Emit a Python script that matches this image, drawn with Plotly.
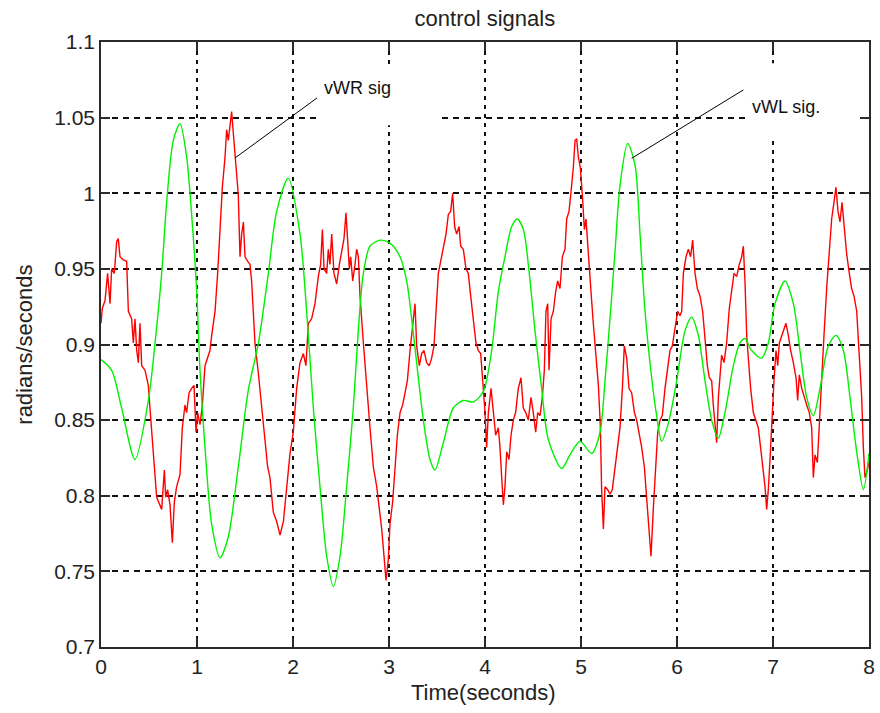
import plotly.graph_objects as go

# ---- data ----
wl_t = [0.0, 0.11, 0.215, 0.354, 0.493, 0.563, 0.632, 0.684, 0.753, 0.823, 0.892, 0.944, 0.997, 1.031,
        1.083, 1.153, 1.24, 1.326, 1.43, 1.535, 1.64, 1.743, 1.83, 1.951, 2.073, 2.142, 2.212, 2.281,
        2.351, 2.42, 2.49, 2.559, 2.628, 2.68, 2.733, 2.802, 2.906, 3.01, 3.115, 3.184, 3.236, 3.288,
        3.358, 3.427, 3.479, 3.566, 3.67, 3.774, 3.878, 3.983, 4.069, 4.139, 4.208, 4.278, 4.337, 4.4,
        4.451, 4.521, 4.59, 4.66, 4.799, 4.885, 4.99, 5.111, 5.198, 5.25, 5.302, 5.354, 5.406, 5.486,
        5.562, 5.615, 5.667, 5.736, 5.788, 5.84, 5.91, 5.997, 6.083, 6.153, 6.222, 6.292, 6.361, 6.43,
        6.5, 6.587, 6.656, 6.708, 6.778, 6.882, 6.951, 7.021, 7.125, 7.212, 7.281, 7.351, 7.42, 7.49,
        7.576, 7.656, 7.733, 7.802, 7.872, 7.941, 8.0]
wl_v = [0.890, 0.883, 0.858, 0.824, 0.863, 0.901, 0.947, 0.994, 1.035, 1.046, 1.024, 0.986, 0.935, 0.883,
        0.832, 0.781, 0.759, 0.773, 0.819, 0.870, 0.901, 0.947, 0.988, 1.010, 0.973, 0.922, 0.858, 0.806,
        0.760, 0.740, 0.760, 0.806, 0.858, 0.909, 0.947, 0.965, 0.969, 0.967, 0.958, 0.942, 0.917, 0.888,
        0.850, 0.824, 0.817, 0.835, 0.858, 0.863, 0.862, 0.869, 0.896, 0.935, 0.958, 0.978, 0.983, 0.976,
        0.953, 0.909, 0.871, 0.837, 0.818, 0.827, 0.836, 0.828, 0.842, 0.876, 0.917, 0.961, 1.005, 1.033,
        1.019, 0.973, 0.922, 0.878, 0.853, 0.836, 0.848, 0.876, 0.909, 0.918, 0.906, 0.876, 0.850, 0.838,
        0.855, 0.886, 0.901, 0.904, 0.896, 0.891, 0.901, 0.927, 0.942, 0.927, 0.896, 0.865, 0.853, 0.871,
        0.899, 0.906, 0.896, 0.865, 0.829, 0.804, 0.828]

wr_t = [0.0, 0.014, 0.042, 0.069, 0.094, 0.111, 0.139, 0.163, 0.18, 0.198, 0.233, 0.267, 0.285, 0.319,
        0.337, 0.354, 0.372, 0.389, 0.406, 0.424, 0.458, 0.493, 0.51, 0.528, 0.556, 0.58, 0.615, 0.632,
        0.66, 0.674, 0.694, 0.719, 0.743, 0.764, 0.788, 0.823, 0.847, 0.875, 0.892, 0.917, 0.944, 0.969,
        0.99, 1.007, 1.031, 1.056, 1.083, 1.111, 1.135, 1.153, 1.188, 1.215, 1.24, 1.264, 1.292, 1.309,
        1.326, 1.344, 1.361, 1.378, 1.396, 1.413, 1.43, 1.448, 1.465, 1.483, 1.5, 1.528, 1.552, 1.569,
        1.604, 1.639, 1.674, 1.708, 1.736, 1.76, 1.795, 1.83, 1.865, 1.9, 1.934, 1.969, 2.003, 2.038,
        2.073, 2.108, 2.135, 2.16, 2.194, 2.229, 2.264, 2.288, 2.306, 2.323, 2.351, 2.368, 2.385, 2.403,
        2.427, 2.455, 2.483, 2.507, 2.531, 2.552, 2.566, 2.587, 2.601, 2.622, 2.646, 2.663, 2.681, 2.698,
        2.733, 2.767, 2.802, 2.837, 2.872, 2.9, 2.924, 2.948, 2.969, 2.993, 3.01, 3.038, 3.063, 3.087,
        3.115, 3.142, 3.167, 3.191, 3.219, 3.247, 3.271, 3.288, 3.316, 3.34, 3.365, 3.392, 3.42, 3.444,
        3.469, 3.49, 3.514, 3.538, 3.566, 3.594, 3.618, 3.642, 3.663, 3.684, 3.705, 3.73, 3.747, 3.774,
        3.802, 3.826, 3.851, 3.878, 3.906, 3.931, 3.955, 3.976, 4.0, 4.017, 4.035, 4.063, 4.087, 4.111,
        4.139, 4.156, 4.174, 4.191, 4.208, 4.226, 4.25, 4.271, 4.295, 4.319, 4.347, 4.375, 4.399, 4.424,
        4.451, 4.479, 4.503, 4.528, 4.549, 4.573, 4.597, 4.618, 4.635, 4.653, 4.667, 4.688, 4.712, 4.736,
        4.757, 4.781, 4.806, 4.833, 4.851, 4.875, 4.896, 4.92, 4.938, 4.955, 4.972, 4.993, 5.014, 5.035,
        5.052, 5.076, 5.104, 5.128, 5.153, 5.181, 5.201, 5.215, 5.233, 5.25, 5.278, 5.302, 5.326, 5.354,
        5.382, 5.406, 5.431, 5.451, 5.476, 5.5, 5.528, 5.556, 5.58, 5.604, 5.632, 5.66, 5.684, 5.708,
        5.729, 5.753, 5.778, 5.799, 5.823, 5.847, 5.875, 5.903, 5.927, 5.951, 5.979, 6.007, 6.031, 6.049,
        6.066, 6.094, 6.118, 6.142, 6.163, 6.188, 6.212, 6.24, 6.267, 6.292, 6.316, 6.337, 6.361, 6.378,
        6.396, 6.413, 6.431, 6.448, 6.465, 6.49, 6.517, 6.545, 6.57, 6.594, 6.622, 6.649, 6.674, 6.691,
        6.708, 6.726, 6.743, 6.767, 6.795, 6.823, 6.847, 6.865, 6.892, 6.917, 6.934, 6.951, 6.969, 6.99,
        7.01, 7.031, 7.049, 7.066, 7.09, 7.115, 7.135, 7.16, 7.184, 7.212, 7.24, 7.257, 7.274, 7.299,
        7.323, 7.351, 7.378, 7.403, 7.42, 7.438, 7.462, 7.483, 7.507, 7.531, 7.559, 7.587, 7.611, 7.635,
        7.656, 7.677, 7.698, 7.719, 7.74, 7.767, 7.795, 7.819, 7.844, 7.872, 7.9, 7.924, 7.941, 7.958,
        7.983, 8.0]
wr_v = [0.914, 0.924, 0.929, 0.947, 0.927, 0.950, 0.947, 0.968, 0.970, 0.958, 0.956, 0.955, 0.922, 0.917,
        0.901, 0.917, 0.896, 0.888, 0.914, 0.886, 0.883, 0.873, 0.858, 0.840, 0.819, 0.799, 0.794, 0.791,
        0.817, 0.799, 0.804, 0.794, 0.769, 0.796, 0.806, 0.814, 0.845, 0.860, 0.855, 0.868, 0.871, 0.873,
        0.842, 0.855, 0.847, 0.860, 0.886, 0.891, 0.896, 0.906, 0.922, 0.947, 0.973, 1.004, 1.024, 1.042,
        1.035, 1.046, 1.054, 1.040, 1.024, 1.012, 0.999, 0.958, 0.973, 0.981, 0.958, 0.955, 0.953, 0.942,
        0.901, 0.881, 0.858, 0.840, 0.819, 0.812, 0.789, 0.783, 0.774, 0.783, 0.806, 0.828, 0.842, 0.871,
        0.888, 0.894, 0.886, 0.914, 0.917, 0.927, 0.945, 0.953, 0.976, 0.950, 0.947, 0.963, 0.953, 0.973,
        0.947, 0.940, 0.953, 0.963, 0.970, 0.987, 0.968, 0.950, 0.958, 0.942, 0.953, 0.963, 0.958, 0.932,
        0.901, 0.871, 0.845, 0.819, 0.806, 0.791, 0.778, 0.760, 0.744, 0.758, 0.781, 0.796, 0.819, 0.840,
        0.855, 0.860, 0.868, 0.876, 0.896, 0.914, 0.927, 0.899, 0.886, 0.894, 0.896, 0.888, 0.886, 0.891,
        0.899, 0.922, 0.947, 0.955, 0.963, 0.973, 0.986, 0.988, 1.000, 0.978, 0.973, 0.978, 0.965, 0.963,
        0.950, 0.947, 0.932, 0.917, 0.901, 0.896, 0.894, 0.876, 0.855, 0.832, 0.855, 0.871, 0.855, 0.840,
        0.845, 0.832, 0.812, 0.794, 0.806, 0.829, 0.824, 0.840, 0.850, 0.855, 0.871, 0.878, 0.858, 0.855,
        0.850, 0.865, 0.855, 0.842, 0.855, 0.853, 0.865, 0.883, 0.922, 0.927, 0.883, 0.917, 0.922, 0.935,
        0.942, 0.937, 0.958, 0.963, 0.983, 0.988, 1.001, 1.017, 1.035, 1.036, 1.024, 1.017, 0.999, 0.976,
        0.983, 0.958, 0.935, 0.914, 0.896, 0.873, 0.847, 0.804, 0.778, 0.806, 0.804, 0.801, 0.804, 0.819,
        0.832, 0.845, 0.871, 0.899, 0.891, 0.871, 0.868, 0.855, 0.850, 0.842, 0.832, 0.819, 0.799, 0.778,
        0.760, 0.791, 0.819, 0.842, 0.850, 0.853, 0.871, 0.886, 0.896, 0.899, 0.911, 0.922, 0.919, 0.922,
        0.947, 0.958, 0.963, 0.958, 0.969, 0.947, 0.937, 0.932, 0.922, 0.901, 0.886, 0.878, 0.876, 0.860,
        0.845, 0.835, 0.865, 0.880, 0.893, 0.888, 0.901, 0.924, 0.937, 0.947, 0.945, 0.953, 0.958, 0.965,
        0.942, 0.906, 0.891, 0.871, 0.855, 0.850, 0.845, 0.835, 0.819, 0.806, 0.791, 0.804, 0.824, 0.855,
        0.876, 0.896, 0.886, 0.901, 0.906, 0.911, 0.914, 0.906, 0.896, 0.888, 0.878, 0.863, 0.880, 0.871,
        0.865, 0.860, 0.855, 0.845, 0.812, 0.827, 0.822, 0.845, 0.876, 0.906, 0.937, 0.965, 0.983, 0.994,
        1.004, 0.988, 0.981, 0.994, 0.978, 0.960, 0.947, 0.937, 0.932, 0.922, 0.891, 0.865, 0.832, 0.812,
        0.817, 0.822]

x_ticks = [0, 1, 2, 3, 4, 5, 6, 7, 8]
y_ticks = [0.7, 0.75, 0.8, 0.85, 0.9, 0.95, 1.0, 1.05, 1.1]
y_tick_text = ["0.7", "0.75", "0.8", "0.85", "0.9", "0.95", "1", "1.05", "1.1"]

FONT = "Liberation Sans, Arial, Helvetica, sans-serif"
AX = "#2a2a2a"

fig = go.Figure()
fig.add_trace(go.Scatter(x=wr_t, y=wr_v, mode="lines", name="vWR sig",
                         line=dict(color="#ff0000", width=1.4), showlegend=False))
fig.add_trace(go.Scatter(x=wl_t, y=wl_v, mode="lines", name="vWL sig.",
                         line=dict(color="#00f000", width=1.4, shape="spline", smoothing=0.8),
                         showlegend=False))

# white text-background boxes that interrupt the grid (as in the original)
fig.add_shape(type="rect", xref="x", yref="y", x0=2.28, x1=3.55, y0=1.045, y1=1.083,
              fillcolor="white", line=dict(width=0), layer="between")
fig.add_shape(type="rect", xref="x", yref="y", x0=6.76, x1=7.87, y0=1.035, y1=1.086,
              fillcolor="white", line=dict(width=0), layer="between")

# pointer lines
fig.add_shape(type="line", xref="x", yref="y", x0=2.25, y0=1.063, x1=1.396, y1=1.0233,
              line=dict(color="black", width=1))
fig.add_shape(type="line", xref="x", yref="y", x0=6.691, y0=1.0683, x1=5.528, y1=1.0231,
              line=dict(color="black", width=1))

fig.add_annotation(x=2.30, y=1.0696, xref="x", yref="y", text="vWR sig", showarrow=False,
                   xanchor="left", yanchor="middle", font=dict(family=FONT, size=18, color="#111"))
fig.add_annotation(x=6.76, y=1.057, xref="x", yref="y", text="vWL sig.", showarrow=False,
                   xanchor="left", yanchor="middle", font=dict(family=FONT, size=18, color="#111"))

# axis titles
fig.add_annotation(x=0.4985, y=-0.076, xref="paper", yref="paper", text="Time(seconds)",
                   showarrow=False, xanchor="center", yanchor="middle",
                   font=dict(family=FONT, size=22, color="#222"))
fig.add_annotation(x=-0.1, y=0.5, xref="paper", yref="paper", text="radians/seconds",
                   showarrow=False, textangle=-90, xanchor="center", yanchor="middle",
                   font=dict(family=FONT, size=22, color="#222"))

axis_common = dict(showline=True, linecolor=AX, linewidth=1.6, mirror="ticks",
                   ticks="inside", ticklen=9, tickcolor=AX, tickwidth=1.6,
                   showgrid=True, gridcolor="#111111", gridwidth=1.5,
                   zeroline=False, tickfont=dict(family=FONT, size=21, color="#222"))

fig.update_xaxes(range=[0, 8], tickvals=x_ticks, griddash="4px,5px", **axis_common)
fig.update_yaxes(range=[0.7, 1.1], tickvals=y_ticks, ticktext=y_tick_text,
                 griddash="6px,5px", **axis_common)

fig.update_layout(
    width=880, height=713,
    margin=dict(l=101, r=5, t=42, b=66),
    paper_bgcolor="white", plot_bgcolor="white",
    title=dict(text="control signals", x=0.551, xanchor="center", y=0.975, yanchor="middle",
               font=dict(family=FONT, size=22, color="#222")),
)

fig.write_html("out.html")
